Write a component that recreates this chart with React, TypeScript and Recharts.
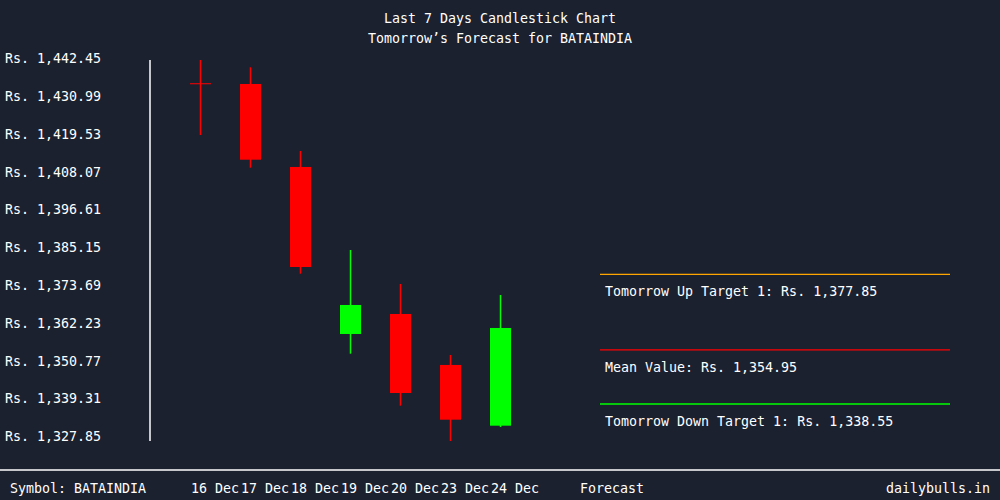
import React from 'react';
import { BarChart, Bar, XAxis, YAxis, ReferenceLine } from 'recharts';

const symbol = 'BATAINDIA';
const dates = ['16 Dec', '17 Dec', '18 Dec', '19 Dec', '20 Dec', '23 Dec', '24 Dec'];
const opens = [1435.75, 1435.52, 1410.37, 1359.76, 1365.82, 1350.37, 1331.97];
const highs = [1442.79, 1440.58, 1415.21, 1385.21, 1374.91, 1353.4, 1371.58];
const lows = [1420.06, 1410.15, 1378.03, 1353.79, 1338.03, 1327.33, 1331.58];
const closes = [1435.7, 1412.58, 1380.06, 1368.55, 1341.88, 1333.79, 1361.58];

const yTicks = [
  1442.45, 1430.99, 1419.53, 1408.07, 1396.61, 1385.15, 1373.69, 1362.23, 1350.77, 1339.31,
  1327.85,
];

const upTarget = 1377.85;
const meanValue = 1354.95;
const downTarget = 1338.55;

const BG = '#1c2130';
const FONT = '"DejaVu Sans Mono", monospace';
const FS = 13.3;

const data = dates.map((d, i) => ({
  idx: i,
  date: d,
  open: opens[i],
  close: closes[i],
  high: highs[i],
  low: lows[i],
  range: [lows[i], highs[i]],
}));

const fmt = (v: number) =>
  'Rs. ' + v.toLocaleString('en-US', { minimumFractionDigits: 2, maximumFractionDigits: 2 });

function Candle(props: any) {
  const { x, y, width, height, payload } = props;
  if (x == null || y == null) return null;
  const top = height < 0 ? y + height : y;
  const h = Math.abs(height);
  const { open, close, high, low } = payload;
  const color = close > open ? '#00ff00' : '#ff0000';
  const px = (v: number) => top + ((high - v) / (high - low)) * h;
  const cx = x + width / 2;
  const bTop = px(Math.max(open, close));
  const bBot = px(Math.min(open, close));
  return (
    <g>
      <line x1={cx} x2={cx} y1={top} y2={top + h} stroke={color} strokeWidth={1.5} />
      <rect x={x} y={bTop} width={width} height={Math.max(bBot - bTop, 1)} fill={color} />
    </g>
  );
}

function YTick(props: any) {
  const { y, payload } = props;
  return (
    <text x={5} y={y + 2} fill="#ffffff" fontFamily={FONT} fontSize={FS} textAnchor="start">
      {fmt(payload.value)}
    </text>
  );
}

function XTick(props: any) {
  const { x, payload } = props;
  return (
    <text x={x - 9} y={493} fill="#ffffff" fontFamily={FONT} fontSize={FS} textAnchor="start">
      {dates[payload.value]}
    </text>
  );
}

const levelLabel = (text: string) => (props: any) => {
  const vb = props.viewBox || {};
  return (
    <text x={vb.x + 5} y={vb.y + 22} fill="#ffffff" fontFamily={FONT} fontSize={FS}>
      {text}
    </text>
  );
};

export default function App() {
  return (
    <div
      style={{
        position: 'fixed',
        left: 0,
        top: 0,
        width: 1000,
        height: 500,
        background: BG,
        fontFamily: FONT,
      }}
    >
      <BarChart
        width={1000}
        height={500}
        data={data}
        margin={{ top: 60, right: 50, bottom: 29, left: 0 }}
        style={{ position: 'absolute', left: 0, top: 0 }}
      >
        <XAxis
          dataKey="idx"
          type="number"
          domain={[-1, 15]}
          ticks={[0, 1, 2, 3, 4, 5, 6]}
          axisLine={false}
          tickLine={false}
          height={30}
          tick={<XTick />}
        />
        <YAxis
          type="number"
          domain={[1327.33, 1442.79]}
          ticks={yTicks}
          width={150}
          axisLine={{ stroke: '#ffffff', strokeWidth: 1.5 }}
          tickLine={false}
          tick={<YTick />}
          interval={0}
        />
        <Bar dataKey="range" barSize={21} shape={<Candle />} isAnimationActive={false} />
        <ReferenceLine
          segment={[
            { x: 8, y: upTarget },
            { x: 15, y: upTarget },
          ]}
          stroke="#ffa500"
          strokeWidth={1.3}
          ifOverflow="visible"
          label={levelLabel(`Tomorrow Up Target 1: ${fmt(upTarget)}`)}
        />
        <ReferenceLine
          segment={[
            { x: 8, y: meanValue },
            { x: 15, y: meanValue },
          ]}
          stroke="#ff0000"
          strokeWidth={1.3}
          ifOverflow="visible"
          label={levelLabel(`Mean Value: ${fmt(meanValue)}`)}
        />
        <ReferenceLine
          segment={[
            { x: 8, y: downTarget },
            { x: 15, y: downTarget },
          ]}
          stroke="#00ff00"
          strokeWidth={1.3}
          ifOverflow="visible"
          label={levelLabel(`Tomorrow Down Target 1: ${fmt(downTarget)}`)}
        />
      </BarChart>
      <svg
        width={1000}
        height={500}
        style={{ position: 'absolute', left: 0, top: 0, pointerEvents: 'none' }}
      >
        <g fill="#ffffff" fontFamily={FONT} fontSize={FS}>
          <text x={500} y={23} textAnchor="middle">
            Last 7 Days Candlestick Chart
          </text>
          <text x={500} y={43} textAnchor="middle">
            {`Tomorrow’s Forecast for ${symbol}`}
          </text>
          <text x={10} y={493}>{`Symbol: ${symbol}`}</text>
          <text x={580} y={493}>Forecast</text>
          <text x={990} y={493} textAnchor="end">
            dailybulls.in
          </text>
        </g>
        <line x1={0} x2={1000} y1={470} y2={470} stroke="#ffffff" strokeWidth={1.5} />
      </svg>
    </div>
  );
}
